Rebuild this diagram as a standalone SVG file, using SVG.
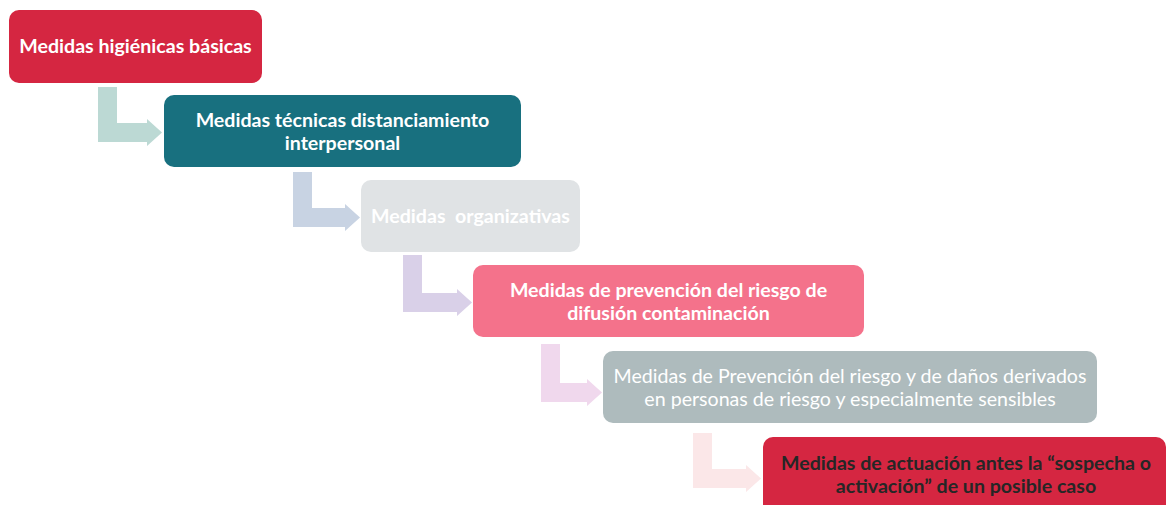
<svg xmlns="http://www.w3.org/2000/svg" width="1167" height="505" viewBox="0 0 1167 505">
<style>
.t{font-family:Lato,"Liberation Sans",sans-serif;font-size:19.6px;text-anchor:middle}
.b{font-weight:bold}
.w{fill:#ffffff}
.d{fill:#262626}
.n{font-weight:normal}
</style>
<rect width="1167" height="505" fill="#ffffff"/>
<g id="connectors">
<path d="M98,87 H117 V123 H147 V119 L162,132.5 L147,146 V142 H98 Z" fill="#bcd9d4"/>
<path d="M293,172 H312 V208 H345 V204 L360,217.5 L345,231 V227 H293 Z" fill="#c8d3e3"/>
<path d="M403,255 H422 V293 H457 V289 L472,302.5 L457,316 V312 H403 Z" fill="#d9d0e8"/>
<path d="M541,344 H560 V383 H587 V379 L602,392.5 L587,406 V402 H541 Z" fill="#f0d8ed"/>
<path d="M693,433 H712 V469 H746 V465 L761,478.5 L746,492 V488 H693 Z" fill="#fbe7e8"/>
</g>
<g id="n1">
<rect x="9" y="10" width="253" height="73" rx="10" fill="#d52641"/>
<text class="t b w" x="135.5" y="53">Medidas higiénicas básicas</text>
</g>
<g id="n2">
<rect x="164" y="95" width="357" height="72" rx="10" fill="#18707f"/>
<text class="t b w" x="342.5" y="127">Medidas técnicas distanciamiento</text>
<text class="t b w" x="342.5" y="150">interpersonal</text>
</g>
<g id="n3">
<rect x="361" y="180" width="219" height="72" rx="10" fill="#e0e3e5"/>
<text class="t b w" x="470.5" y="223" xml:space="preserve">Medidas  organizativas</text>
</g>
<g id="n4">
<rect x="473" y="265" width="391" height="72" rx="10" fill="#f4728b"/>
<text class="t b w" x="668.5" y="297">Medidas de prevención del riesgo de</text>
<text class="t b w" x="668.5" y="320">difusión contaminación</text>
</g>
<g id="n5">
<rect x="603" y="351" width="494" height="72" rx="10" fill="#aebbbd"/>
<text class="t n w" x="850" y="383">Medidas de Prevención del riesgo y de daños derivados</text>
<text class="t n w" x="850" y="406">en personas de riesgo y especialmente sensibles</text>
</g>
<g id="n6">
<rect x="763" y="437" width="403" height="80" rx="10" fill="#d52641"/>
<text class="t b d" x="966" y="470">Medidas de actuación antes la “sospecha o</text>
<text class="t b d" x="966" y="493">activación” de un posible caso</text>
</g>
</svg>
